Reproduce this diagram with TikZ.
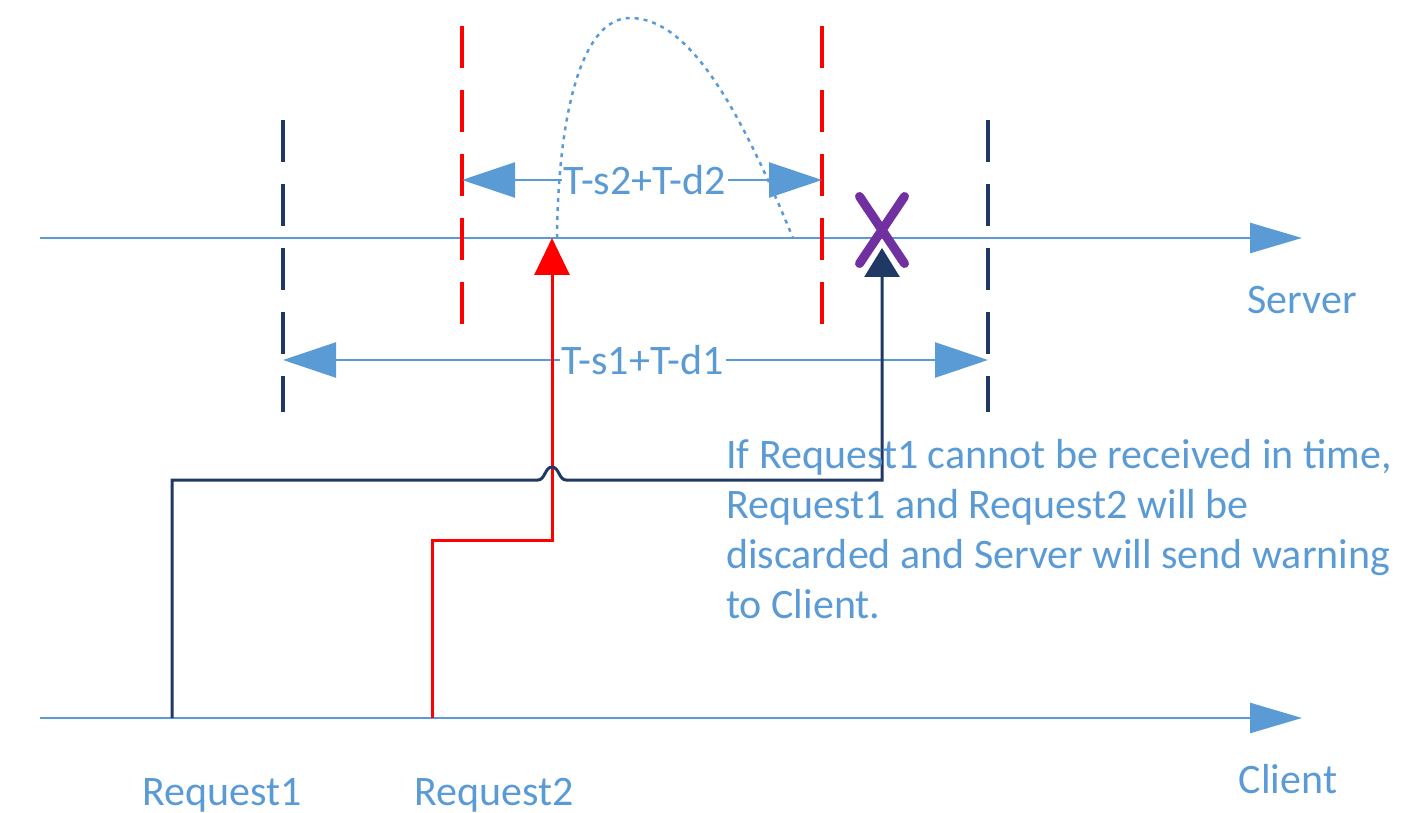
\documentclass[tikz,border=0pt]{standalone}
\usepackage{fontspec}
\setmainfont{Carlito}
\usepackage{xcolor}
\usetikzlibrary{arrows.meta,shapes.misc}
\definecolor{lineblue}{HTML}{5B9BD5}
\definecolor{navy}{HTML}{203864}
\definecolor{lostpurple}{HTML}{7030A0}

\begin{document}
\begin{tikzpicture}[
    x=1pt, y=-1pt,
    lbl/.style={text=lineblue, font=\fontsize{42}{50}\selectfont, inner sep=0pt},
    axis/.style={draw=lineblue, line width=2.5pt, -{Triangle[length=52pt,width=30pt]}},
    span/.style={
      draw=lineblue, line width=2.5pt,
      {Triangle[length=53pt,width=35pt]}-{Triangle[length=53pt,width=35pt]}
    },
    bound/.style={line width=4pt, dash pattern=on 42pt off 22pt},
    req/.style={line width=3pt}
  ]
    \useasboundingbox (0,0) rectangle (1409,813);

    \coordinate (srvL) at (40,238);
    \coordinate (srvR) at (1302,238);
    \coordinate (cliL) at (40,718);
    \coordinate (cliR) at (1302,718);
    \draw[axis] (srvL) -- (srvR);
    \draw[axis] (cliL) -- (cliR);
    \node[lbl, anchor=base] (server) at (1302,313) {Server};
    \node[lbl, anchor=base] (client) at (1288,793) {Client};
    \node[lbl, anchor=base] (req1) at (222,805) {Request1};
    \node[lbl, anchor=base] (req2) at (494,805) {Request2};

    \coordinate (b1top) at (283,120);
    \coordinate (b1bot) at (283,412);
    \coordinate (b2top) at (988,120);
    \coordinate (b2bot) at (988,412);
    \coordinate (c1top) at (462,26);
    \coordinate (c1bot) at (462,325);
    \coordinate (c2top) at (822,26);
    \coordinate (c2bot) at (822,325);
    \draw[bound, navy] (b1top) -- (b1bot);
    \draw[bound, navy] (b2top) -- (b2bot);
    \draw[bound, red] (c1top) -- (c1bot);
    \draw[bound, red] (c2top) -- (c2bot);

    \coordinate (s2L) at (462,180);
    \coordinate (s2R) at (822,180);
    \coordinate (s1L) at (283,360);
    \coordinate (s1R) at (988,360);
    \draw[span] (s2L) -- node[lbl, fill=white, inner sep=2pt, pos=0.508] (tau2) {T-s2+T-d2} (s2R);
    \draw[span] (s1L) -- node[lbl, fill=white, inner sep=2pt, pos=0.51] (tau1) {T-s1+T-d1} (s1R);

    \coordinate (rise) at (557,238);
    \coordinate (peak) at (630,18);
    \coordinate (fall) at (793,238);
    \draw[lineblue, line width=2.5pt, dash pattern=on 4pt off 5pt]
      (rise) .. controls (558,120) and (580,18) .. (peak)
             .. controls (690,18) and (740,110) .. (fall);

    \coordinate (r2) at (432,718);
    \coordinate (r2end) at (552,238);
    \draw[req, red, -{Triangle[length=37pt,width=35pt]}]
      (r2) -- (432,540) -- (552,540) -- (r2end);

    \coordinate (r1) at (172,718);
    \coordinate (r1end) at (882,248);
    \draw[req, navy, -{Triangle[length=29pt,width=35pt]}]
      (r1) -- (172,480) -- (538,480)
      .. controls (545,480) and (545,467) .. (552,467)
      .. controls (559,467) and (559,480) .. (566,480)
      -- (882,480) -- (r1end);

    \node[cross out, draw=lostpurple, line width=9pt, line cap=round,
      minimum width=36pt, minimum height=58pt, inner sep=0pt] (lost) at (882,230) {};

    \node[lbl, anchor=base west, align=left] (note) at (726,618)
      {If Request1 cannot be received in time,\\
       Request1 and Request2 will be\\
       discarded and Server will send warning\\
       to Client.};
  \end{tikzpicture}
\end{document}
